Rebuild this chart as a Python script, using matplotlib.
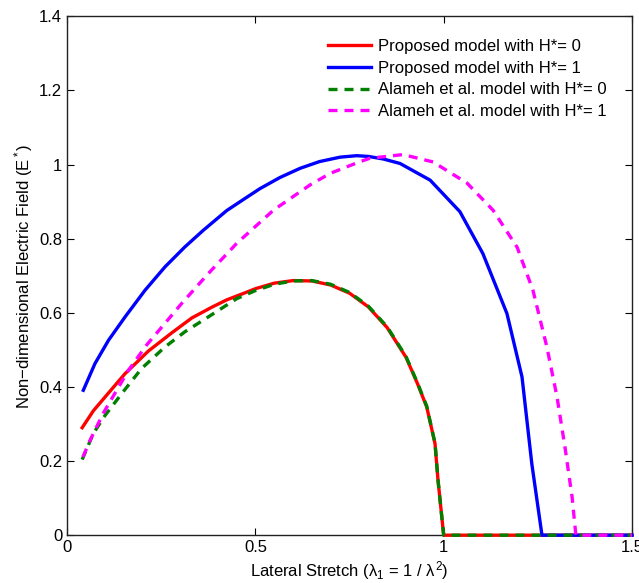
import matplotlib
matplotlib.use("Agg")
import matplotlib.pyplot as plt

plt.rcParams['font.family'] = ['Liberation Sans', 'DejaVu Sans']
plt.rcParams['mathtext.fontset'] = 'custom'
plt.rcParams['mathtext.rm'] = 'Liberation Sans'
plt.rcParams['mathtext.it'] = 'Liberation Sans'

# Proposed model, H* = 0
red_x = [0.04, 0.07, 0.101, 0.154, 0.216, 0.278, 0.331, 0.384, 0.424, 0.47, 0.50, 0.55, 0.60,
         0.65, 0.70, 0.75, 0.80, 0.85, 0.90, 0.93, 0.955, 0.977, 0.985, 1.00, 1.50]
red_y = [0.29, 0.336, 0.373, 0.436, 0.497, 0.546, 0.586, 0.615, 0.635, 0.653, 0.665, 0.68, 0.687,
         0.686, 0.675, 0.653, 0.616, 0.56, 0.48, 0.41, 0.346, 0.247, 0.148, 0.0, 0.0]

# Proposed model, H* = 1
blue_x = [0.043, 0.074, 0.11, 0.154, 0.207, 0.26, 0.313, 0.362, 0.424, 0.47, 0.512,
          0.565, 0.619, 0.67, 0.725, 0.769, 0.80, 0.84, 0.884, 0.964, 1.043, 1.104, 1.168,
          1.208, 1.234, 1.261, 1.50]
blue_y = [0.391, 0.463, 0.526, 0.589, 0.661, 0.724, 0.778, 0.823, 0.876, 0.907, 0.935,
          0.965, 0.99, 1.008, 1.02, 1.024, 1.022, 1.015, 1.003, 0.958, 0.873, 0.76, 0.598,
          0.427, 0.193, 0.0, 0.0]

# Alameh et al. model, H* = 0
green_x = [0.04, 0.07, 0.10, 0.145, 0.198, 0.26, 0.313, 0.375, 0.45, 0.50, 0.55, 0.60,
           0.65, 0.70, 0.75, 0.80, 0.85, 0.90, 0.93, 0.955, 0.977, 0.985, 1.00, 1.50]
green_y = [0.204, 0.275, 0.322, 0.382, 0.45, 0.508, 0.549, 0.589, 0.638, 0.66, 0.677, 0.686,
           0.687, 0.677, 0.655, 0.618, 0.562, 0.482, 0.412, 0.348, 0.248, 0.148, 0.0, 0.0]

# Alameh et al. model, H* = 1
mag_x = [0.042, 0.061, 0.096, 0.119, 0.163, 0.211, 0.256, 0.304, 0.34, 0.375, 0.45, 0.548,
         0.645, 0.698, 0.778, 0.804, 0.892, 0.972, 1.062, 1.131, 1.195, 1.237, 1.274, 1.301,
         1.322, 1.341, 1.351, 1.50]
mag_y = [0.211, 0.256, 0.329, 0.369, 0.445, 0.513, 0.567, 0.625, 0.666, 0.706, 0.787, 0.877,
         0.945, 0.976, 1.008, 1.017, 1.027, 1.007, 0.95, 0.877, 0.777, 0.661, 0.508, 0.373,
         0.238, 0.103, 0.0, 0.0]

labels = ['Proposed model with H*= 0', 'Proposed model with H*= 1',
          'Alameh et al. model with H*= 0', 'Alameh et al. model with H*= 1']

xticks = [0, 0.5, 1, 1.5]
xticklabels = ['0', '0.5', '1', '1.5']
yticks = [0, 0.2, 0.4, 0.6, 0.8, 1.0, 1.2, 1.4]
yticklabels = ['0', '0.2', '0.4', '0.6', '0.8', '1', '1.2', '1.4']

fig = plt.figure(figsize=(6.39, 5.83), dpi=100)
ax = fig.add_axes([0.105, 0.082, 0.884, 0.890])

lw = 2.4
dash = (2.7, 2.1)
ax.plot(red_x, red_y, color='#ff0000', lw=lw, label=labels[0], clip_on=False, zorder=3)
ax.plot(blue_x, blue_y, color='#0000ff', lw=lw, label=labels[1], clip_on=False, zorder=3)
ax.plot(green_x, green_y, color='#008000', lw=lw, ls='--', dashes=dash, label=labels[2], clip_on=False, zorder=4)
ax.plot(mag_x, mag_y, color='#ff00ff', lw=lw, ls='--', dashes=dash, label=labels[3], clip_on=False, zorder=4)

ax.set_xlim(0, 1.5)
ax.set_ylim(0, 1.4)
ax.set_xticks(xticks)
ax.set_xticklabels(xticklabels)
ax.set_yticks(yticks)
ax.set_yticklabels(yticklabels)
ax.tick_params(direction='in', length=5, width=0.8, top=True, right=True, labelsize=12, colors='black')
for s in ax.spines.values():
    s.set_linewidth(1.0)
    s.set_color('#222222')

ax.set_xlabel('Lateral Stretch ($\\lambda_1$ = 1 / $\\lambda^2$)', fontsize=12, labelpad=3)
ax.set_ylabel('Non\u2212dimensional Electric Field (E$^*$)', fontsize=12, labelpad=3)

leg = ax.legend(loc='upper right', bbox_to_anchor=(0.981, 0.985), frameon=False, fontsize=12,
                handlelength=2.55, handletextpad=0.4, labelspacing=0.4)

fig.savefig('out.png', dpi=100)
